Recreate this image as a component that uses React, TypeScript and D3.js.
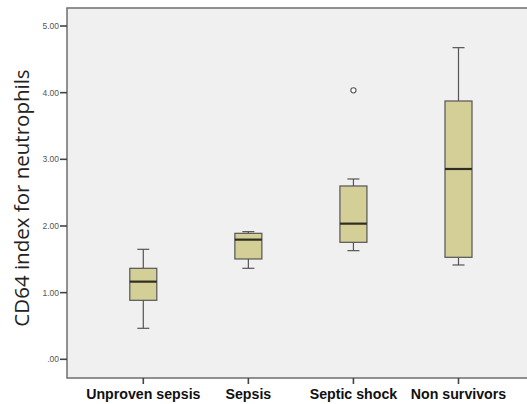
import React from "react";
import * as d3 from "d3";

const categories: string[] = ["Unproven sepsis", "Sepsis", "Septic shock", "Non survivors"];
const mins: number[] = [0.465, 1.365, 1.63, 1.415];
const q1s: number[] = [0.885, 1.505, 1.755, 1.53];
const medians: number[] = [1.165, 1.795, 2.035, 2.855];
const q3s: number[] = [1.365, 1.89, 2.6, 3.875];
const maxs: number[] = [1.65, 1.915, 2.705, 4.675];
const outliers: { cat: string; value: number }[] = [{ cat: "Septic shock", value: 4.035 }];
const yTicks: number[] = [0, 1, 2, 3, 4, 5];
const yLabel = "CD64 index for neutrophils";

const W = 527;
const H = 404;
const frame = { left: 67, top: 8, right: 530, bottom: 378 };

export default function App() {
    const y = d3.scaleLinear().domain([0, 5]).range([359.3, 26]);
    const x = d3.scalePoint<string>().domain(categories).range([143.3, 458.5]);
    const boxW = 27;
    const capW = 12;
    const fmt = (v: number) => (v === 0 ? ".00" : v.toFixed(2));

    return (
        <svg width={W} height={H} style={{ position: "absolute", left: 0, top: 0, background: "#fff" }}>
            <rect
                x={frame.left} y={frame.top}
                width={frame.right - frame.left} height={frame.bottom - frame.top}
                fill="#f0f0f0" stroke="#6e6e6e" strokeWidth={1.5}
            />

            {/* y axis */}
            {yTicks.map(t => (
                <g key={t} transform={`translate(0,${y(t)})`}>
                    <line x1={60} x2={frame.left} stroke="#444" strokeWidth={1.6} />
                    <text x={59} dy="0.35em" textAnchor="end" fontSize={8.5} fill="#555"
                        fontFamily="Arial, Liberation Sans, sans-serif">{fmt(t)}</text>
                </g>
            ))}
            <text
                transform={`translate(29,198) rotate(-90)`}
                textAnchor="middle" fontSize={20.5} fill="#222"
                fontFamily="Open Sans, sans-serif"
            >{yLabel}</text>

            {/* x axis */}
            {categories.map(c => (
                <g key={c} transform={`translate(${x(c)},0)`}>
                    <line y1={frame.bottom} y2={frame.bottom + 6} stroke="#444" strokeWidth={1.6} />
                    <text y={399} textAnchor="middle" fontSize={14.2} fontWeight="bold" fill="#111"
                        fontFamily="Arial, Liberation Sans, sans-serif">{c}</text>
                </g>
            ))}

            {/* boxes */}
            {categories.map((c, i) => {
                const cx = x(c)!;
                return (
                    <g key={c}>
                        <line x1={cx} x2={cx} y1={y(maxs[i])} y2={y(q3s[i])} stroke="#555" strokeWidth={1.2} />
                        <line x1={cx} x2={cx} y1={y(q1s[i])} y2={y(mins[i])} stroke="#555" strokeWidth={1.2} />
                        <line x1={cx - capW / 2} x2={cx + capW / 2} y1={y(maxs[i])} y2={y(maxs[i])} stroke="#555" strokeWidth={1.2} />
                        <line x1={cx - capW / 2} x2={cx + capW / 2} y1={y(mins[i])} y2={y(mins[i])} stroke="#555" strokeWidth={1.2} />
                        <rect
                            x={cx - boxW / 2} y={y(q3s[i])}
                            width={boxW} height={y(q1s[i]) - y(q3s[i])}
                            fill="#d4cf97" stroke="#555" strokeWidth={1.2}
                        />
                        <line x1={cx - boxW / 2} x2={cx + boxW / 2} y1={y(medians[i])} y2={y(medians[i])} stroke="#2e2e22" strokeWidth={2.2} />
                    </g>
                );
            })}

            {outliers.map((o, i) => (
                <circle key={i} cx={x(o.cat)} cy={y(o.value)} r={2.6} fill="#fff" stroke="#555" strokeWidth={1.1} />
            ))}
        </svg>
    );
}
